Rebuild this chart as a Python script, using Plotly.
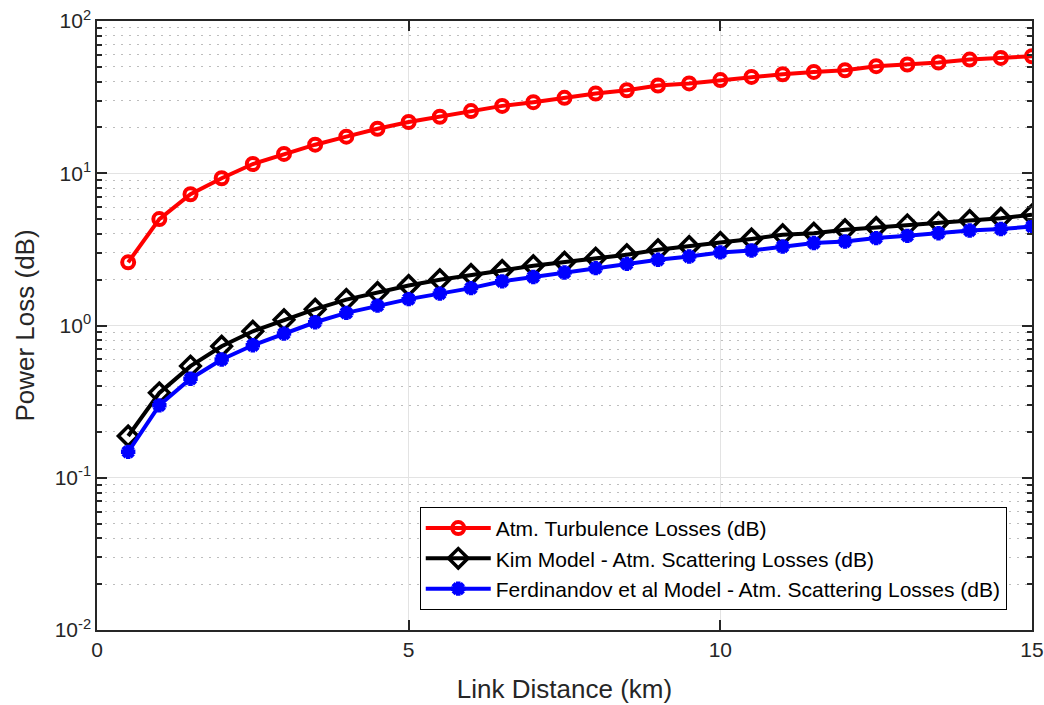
import plotly.graph_objects as go

distance_km = [0.5, 1, 1.5, 2, 2.5, 3, 3.5, 4, 4.5, 5, 5.5, 6, 6.5, 7, 7.5,
               8, 8.5, 9, 9.5, 10, 10.5, 11, 11.5, 12, 12.5, 13, 13.5, 14, 14.5, 15]

turbulence_db = [2.6, 5.0, 7.28, 9.27, 11.5, 13.4, 15.4, 17.4, 19.6, 21.7,
                 23.5, 25.6, 27.7, 29.3, 31.3, 33.4, 35.1, 37.7, 38.9, 40.9,
                 42.9, 44.7, 46.3, 47.5, 50.5, 51.8, 53.4, 55.8, 57.2, 58.7]

kim_db = [0.188, 0.361, 0.541, 0.731, 0.916, 1.09, 1.28, 1.48, 1.65, 1.83,
          2.0, 2.16, 2.30, 2.47, 2.60, 2.77, 2.92, 3.14, 3.30, 3.51,
          3.70, 3.94, 4.04, 4.25, 4.40, 4.58, 4.74, 4.89, 5.07, 5.33]

ferdinandov_db = [0.148, 0.299, 0.447, 0.598, 0.742, 0.885, 1.05, 1.21, 1.35, 1.49,
                  1.62, 1.76, 1.95, 2.08, 2.23, 2.38, 2.54, 2.70, 2.84, 3.02,
                  3.11, 3.30, 3.48, 3.56, 3.75, 3.88, 4.04, 4.21, 4.30, 4.47]

series_names = ["Atm. Turbulence Losses (dB)",
                "Kim Model - Atm. Scattering Losses (dB)",
                "Ferdinandov et al Model - Atm. Scattering Losses (dB)"]

x_ticks = [0, 5, 10, 15]
y_tick_vals = [0.01, 0.1, 1, 10, 100]
y_tick_text = ["10<sup>-2</sup>", "10<sup>-1</sup>", "10<sup>0</sup>", "10<sup>1</sup>", "10<sup>2</sup>"]

minor_vals = [k * 10.0 ** e for e in range(-2, 2) for k in range(2, 10)]

fig = go.Figure()
fig.add_trace(go.Scatter(
    x=distance_km, y=turbulence_db, mode="lines+markers", name=series_names[0],
    line=dict(color="#ff0000", width=4),
    marker=dict(symbol="circle-open", size=12, color="#ff0000", line=dict(width=4, color="#ff0000")),
))
fig.add_trace(go.Scatter(
    x=distance_km, y=kim_db, mode="lines+markers", name=series_names[1],
    line=dict(color="#000000", width=4),
    marker=dict(symbol="diamond-open", size=15, color="#000000", line=dict(width=3.5, color="#000000")),
))
fig.add_trace(go.Scatter(
    x=distance_km, y=ferdinandov_db, mode="lines+markers", name=series_names[2],
    line=dict(color="#0000ff", width=4),
    marker=dict(symbol="asterisk-open", size=12, color="#0000ff", line=dict(width=4.5, color="#0000ff")),
))

axis_color = "#262626"
fig.update_layout(
    width=1044, height=705,
    margin=dict(l=97, r=12, t=21, b=75),
    paper_bgcolor="white", plot_bgcolor="white",
    font=dict(family="Liberation Sans, Arial, sans-serif", size=21, color=axis_color),
    showlegend=True,
    legend=dict(
        x=0.973, y=0.033, xanchor="right", yanchor="bottom",
        bgcolor="white", bordercolor="#000000", borderwidth=1,
        font=dict(size=21, color="#000000"),
        tracegroupgap=0, itemwidth=65,
    ),
    xaxis=dict(
        range=[0, 15], tickvals=x_ticks, ticks="inside", ticklen=10, tickwidth=1.5,
        tickcolor=axis_color, showline=True, linecolor=axis_color, linewidth=1.5,
        mirror="allticks", showgrid=True, gridcolor="#e3e3e3", gridwidth=1,
        zeroline=False, automargin=False,
        title=dict(text="Link Distance (km)", font=dict(size=26), standoff=20),
        tickfont=dict(size=21),
    ),
    yaxis=dict(
        type="log", range=[-2, 2], tickvals=y_tick_vals, ticktext=y_tick_text,
        ticks="inside", ticklen=10, tickwidth=1.5, tickcolor=axis_color,
        showline=True, linecolor=axis_color, linewidth=1.5, mirror="allticks",
        showgrid=True, gridcolor="#e3e3e3", gridwidth=1, zeroline=False,
        automargin=False,
        title=dict(text="Power Loss (dB)", font=dict(size=26), standoff=13),
        tickfont=dict(size=21),
        minor=dict(tickmode="array", tickvals=minor_vals, ticks="inside", ticklen=5,
                   tickcolor=axis_color, showgrid=True, griddash="2px,6px",
                   gridcolor="#bdbdbd", gridwidth=1),
    ),
)

fig.write_html("out.html", config={"displayModeBar": False},
               post_script="document.body.style.margin='0';")
